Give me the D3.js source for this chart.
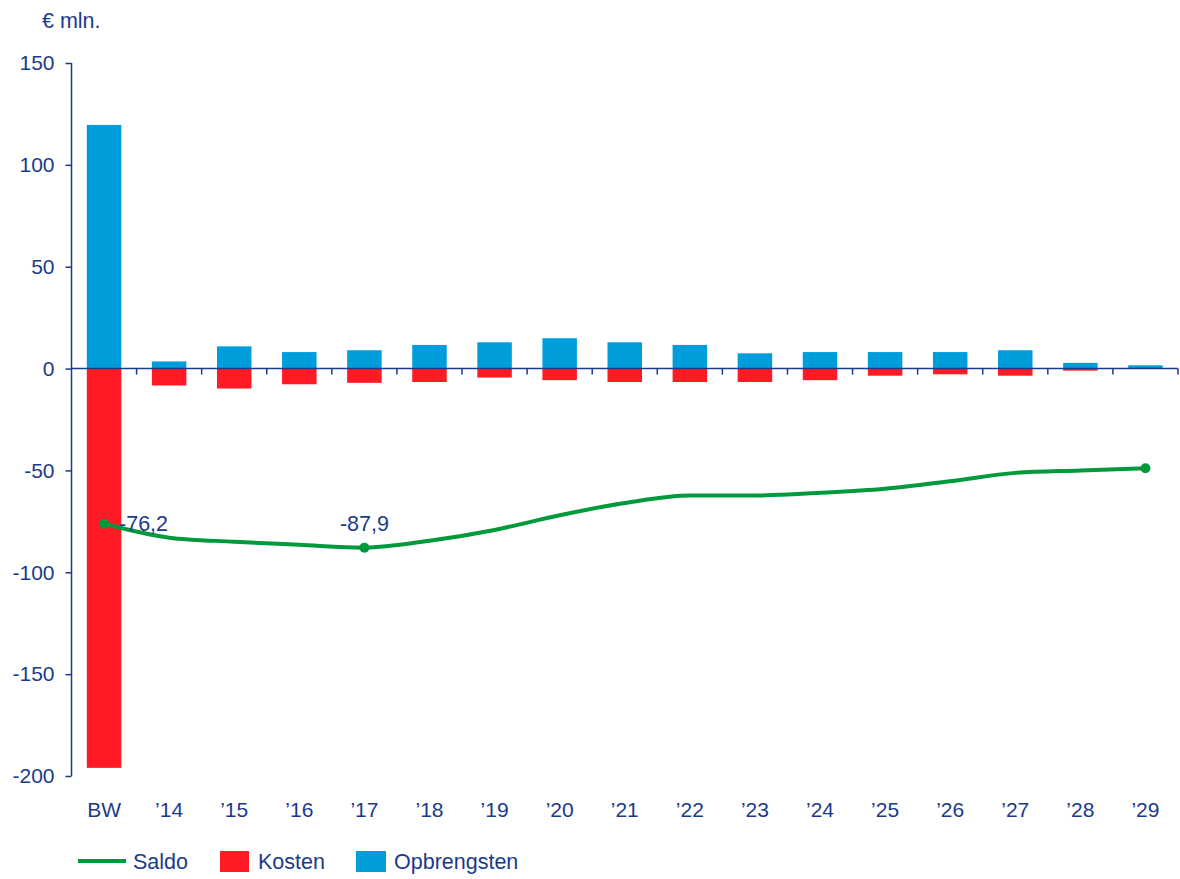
<!DOCTYPE html>
<html>
<head>
<meta charset="utf-8">
<script src="https://cdn.jsdelivr.net/npm/d3@7"></script>
<style>
  body { margin: 0; background: #fff; }
  text { font-family: "Liberation Sans", Arial, sans-serif; fill: #1b3a8c; }
</style>
</head>
<body>
<div id="chart"></div>
<script>
// data
var categories = ['BW', '\u201914', '\u201915', '\u201916', '\u201917', '\u201918', '\u201919', '\u201920', '\u201921',
    '\u201922', '\u201923', '\u201924', '\u201925', '\u201926', '\u201927', '\u201928', '\u201929'];
var opbrengsten = [119.6, 3.5, 10.9, 8.1, 9.0, 11.6, 12.9, 14.9, 12.9, 11.6, 7.5, 8.1, 8.1, 8.1, 9.0, 2.8, 1.6];
var kosten = [-196, -8.3, -9.8, -7.7, -7.0, -6.6, -4.4, -5.7, -6.6, -6.6, -6.6, -5.7, -3.5, -2.8, -3.5, -1.0, 0];
var saldo = [-76.2, -83, -85, -86.5, -87.9, -84.5, -79.2, -72, -66, -62.3, -62.3, -61, -59, -55.3, -51.2, -50, -48.9];
var yTicks = [150, 100, 50, 0, -50, -100, -150, -200];
var labelled = [{i: 0, text: '-76,2'}, {i: 4, text: '-87,9'}];
var dotIdx = [0, 4, 16];

var width = 1180;
var height = 879;
var navy = '#1b3a8c';

var svg = d3.select('#chart').append('svg')
    .attr('width', width)
    .attr('height', height);

var xScale = d3.scaleBand()
    .domain(categories)
    .range([71.5, 1178])
    .padding(0);

var yScale = d3.scaleLinear()
    .domain([-200, 150])
    .range([776, 63]);

var barW = xScale.bandwidth() * 0.53;
var cx = function (d, i) { return xScale(categories[i]) + xScale.bandwidth() / 2; };

// bars
svg.append('g').selectAll('rect.opb')
    .data(opbrengsten)
    .enter()
    .append('rect')
    .attr('x', (d, i) => cx(d, i) - barW / 2)
    .attr('y', d => yScale(d))
    .attr('width', barW)
    .attr('height', d => yScale(0) - yScale(d))
    .attr('fill', '#009ddc');

svg.append('g').selectAll('rect.kos')
    .data(kosten)
    .enter()
    .append('rect')
    .attr('x', (d, i) => cx(d, i) - barW / 2)
    .attr('y', yScale(0))
    .attr('width', barW)
    .attr('height', d => yScale(d) - yScale(0))
    .attr('fill', '#ff1a25');

// y axis
var yAxis = d3.axisLeft(yScale)
    .tickValues(yTicks)
    .tickSize(6)
    .tickPadding(11)
    .tickFormat(d => String(d));

var yAxis_g = svg.append('g')
    .attr('transform', 'translate(71.5,0)')
    .call(yAxis);
yAxis_g.select('.domain').remove();
yAxis_g.append('line')
    .attr('x1', 0).attr('x2', 0)
    .attr('y1', yScale(150)).attr('y2', yScale(-200))
    .attr('stroke', navy).attr('stroke-width', 1.5);
yAxis_g.selectAll('.tick line').attr('stroke', navy).attr('stroke-width', 1.5);
yAxis_g.selectAll('.tick text')
    .style('font-size', '21px')
    .style('font-family', '"Liberation Sans", Arial, sans-serif')
    .attr('fill', navy);

// x axis line with ticks at band boundaries
var zeroY = yScale(0);
svg.append('line')
    .attr('x1', 71.5).attr('x2', 1178)
    .attr('y1', zeroY).attr('y2', zeroY)
    .attr('stroke', navy).attr('stroke-width', 1.5);

var bounds = categories.map(c => xScale(c) + xScale.bandwidth());
svg.append('g').selectAll('line')
    .data(bounds)
    .enter()
    .append('line')
    .attr('x1', d => d).attr('x2', d => d)
    .attr('y1', zeroY).attr('y2', zeroY + 6)
    .attr('stroke', navy).attr('stroke-width', 1.5);

// category labels
svg.append('g').selectAll('text')
    .data(categories)
    .enter()
    .append('text')
    .attr('x', (d, i) => cx(d, i))
    .attr('y', 817)
    .attr('text-anchor', 'middle')
    .style('font-size', '21px')
    .text(d => d);

// saldo line
var line = d3.line()
    .x((d, i) => cx(d, i))
    .y(d => yScale(d))
    .curve(d3.curveMonotoneX);

svg.append('path')
    .datum(saldo)
    .attr('d', line)
    .attr('fill', 'none')
    .attr('stroke', '#009a3d')
    .attr('stroke-width', 4);

svg.append('g').selectAll('circle')
    .data(dotIdx)
    .enter()
    .append('circle')
    .attr('cx', i => cx(saldo[i], i))
    .attr('cy', i => yScale(saldo[i]))
    .attr('r', 5)
    .attr('fill', '#009a3d');

svg.append('g').selectAll('text')
    .data(labelled)
    .enter()
    .append('text')
    .attr('x', d => d.i === 0 ? cx(0, d.i) + 15 : cx(0, d.i))
    .attr('y', 531)
    .attr('text-anchor', d => d.i === 0 ? 'start' : 'middle')
    .style('font-size', '21.5px')
    .text(d => d.text);

// unit label
svg.append('text')
    .attr('x', 42)
    .attr('y', 28)
    .style('font-size', '21.5px')
    .text('\u20ac mln.');

// legend
var legend = svg.append('g');
legend.append('line')
    .attr('x1', 78).attr('x2', 126)
    .attr('y1', 861).attr('y2', 861)
    .attr('stroke', '#009a3d').attr('stroke-width', 4);
legend.append('text').attr('x', 133).attr('y', 869).style('font-size', '21.5px').text('Saldo');
legend.append('rect')
    .attr('x', 220).attr('y', 851).attr('width', 29).attr('height', 21)
    .attr('fill', '#ff1a25');
legend.append('text').attr('x', 258).attr('y', 869).style('font-size', '21.5px').text('Kosten');
legend.append('rect')
    .attr('x', 356).attr('y', 851).attr('width', 30).attr('height', 21)
    .attr('fill', '#009ddc');
legend.append('text').attr('x', 394).attr('y', 869).style('font-size', '21.5px').text('Opbrengsten');
</script>
</body>
</html>
